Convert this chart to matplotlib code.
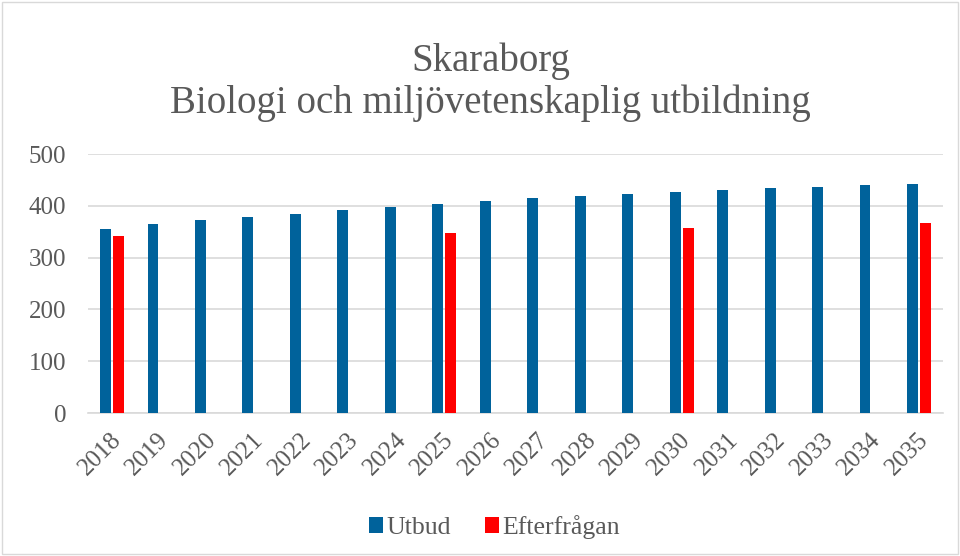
import matplotlib.pyplot as plt
import matplotlib.transforms as mtransforms
import numpy as np
from matplotlib.patches import Rectangle

years = [str(y) for y in range(2018, 2036)]
utbud = [355, 365, 373, 379, 385, 392, 398, 404, 409, 415, 419, 423, 427, 430, 434, 437, 440, 443]
eft_years = ['2018', '2025', '2030', '2035']
efterfragan = [341, 347, 358, 366]

blue = '#00629B'
red = '#FF0000'
grey = '#595959'

plt.rcParams['font.family'] = ['Liberation Serif', 'DejaVu Serif']

fig = plt.figure(figsize=(9.6, 5.56), dpi=100)
ax = fig.add_axes([0.092, 0.257, 0.890, 0.466])

x = np.arange(len(years))
w = 0.23
off = 0.137
eft_x = np.array([years.index(y) for y in eft_years])

ax.bar(x - off, utbud, w, color=blue, label='Utbud', zorder=3)
ax.bar(eft_x + off, efterfragan, w, color=red, label='Efterfrågan', zorder=3)

ax.set_xlim(-0.5, len(years) - 0.5)
ax.set_ylim(0, 500)
ax.set_yticks(range(0, 501, 100))
ax.yaxis.grid(True, color='#D9D9D9', linewidth=1.2, zorder=0)
ax.set_xticks(x)
ax.set_xticklabels(years, rotation=45, ha='right', va='top', rotation_mode='anchor')
ax.tick_params(axis='both', length=0, labelsize=18, colors=grey)
ax.tick_params(axis='y', pad=16)
ax.tick_params(axis='x', pad=11)
shift = mtransforms.ScaledTranslation(-2 / 100, 0, fig.dpi_scale_trans)
for lab in ax.get_xticklabels():
    lab.set_transform(lab.get_transform() + shift)
for s in ['top', 'right', 'left']:
    ax.spines[s].set_visible(False)
ax.spines['bottom'].set_color('#D9D9D9')
ax.spines['bottom'].set_linewidth(1.2)

fig.text(0.511, 0.872, 'Skaraborg', ha='center', va='baseline', fontsize=28, color=grey)
fig.text(0.511, 0.797, 'Biologi och miljövetenskaplig utbildning', ha='center', va='baseline',
         fontsize=28, color=grey)

fig.legend(loc='center', bbox_to_anchor=(0.515, 0.052), ncol=2, frameon=False,
           fontsize=18.5, labelcolor=grey, handlelength=0.55, handleheight=0.55,
           handletextpad=0.15, columnspacing=1.3)

fig.add_artist(Rectangle((0.002, 0.003), 0.996, 0.994, transform=fig.transFigure,
                         fill=False, edgecolor='#D9D9D9', linewidth=1))

fig.savefig('out.png', dpi=100)
